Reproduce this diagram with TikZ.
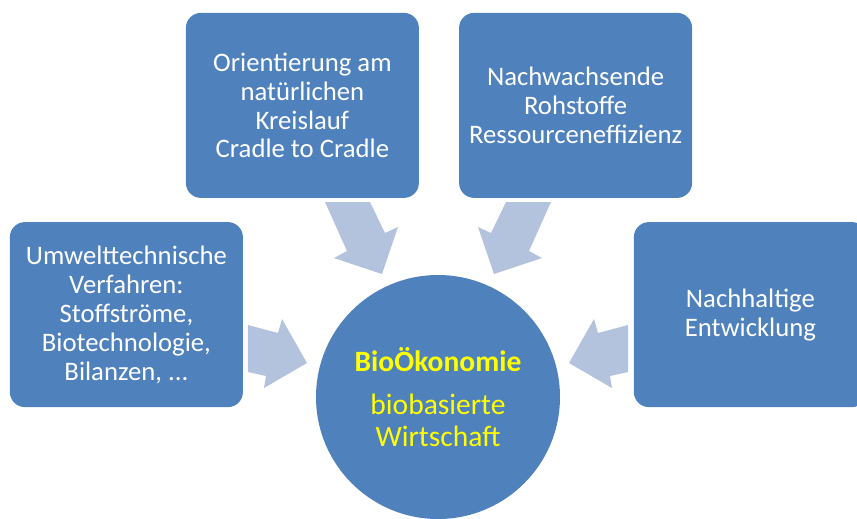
\documentclass[tikz,border=0pt]{standalone}
\usepackage{fontspec}
\setmainfont{Carlito}
\usetikzlibrary{positioning}
\definecolor{boxblue}{HTML}{4F81BD}
\definecolor{arrowblue}{HTML}{B3C3DE}
\definecolor{bioyellow}{HTML}{FFFF00}

\begin{document}
\begin{tikzpicture}[
    font=\fontsize{19}{20.6}\selectfont,
    topic/.style={
      rectangle, rounded corners=0.375cm, fill=boxblue, text=white,
      align=center, minimum width=5.825cm, minimum height=4.625cm,
      inner sep=2pt
    },
    core/.style={
      circle, fill=boxblue, text=bioyellow, align=center,
      minimum size=6.1cm, inner sep=0pt,
      font=\fontsize{21}{22.8}\selectfont
    },
    flow/.style={fill=arrowblue}
  ]
    \useasboundingbox (-10.95,-3.025) rectangle (10.475,9.925);

    % Central circle (origin)
    \node[core] (bio)
      {{\bfseries BioÖkonomie}\\[8pt]biobasierte\\Wirtschaft};

    % Surrounding topics
    \node[topic] at ([shift={(-3.39, 7.29)}]bio.center) (kreis)
      {Orientierung am\\natürlichen\\Kreislauf\\Cradle to Cradle};
    \node[topic] at ([shift={( 3.44, 7.29)}]bio.center) (rohst)
      {Nachwachsende\\Rohstoffe\\Ressourceneffizienz};
    \node[topic] at ([shift={(-7.79, 2.06)}]bio.center) (umwelt)
      {Umwelttechnische\\Verfahren:\\Stoffströme,\\Biotechnologie,\\Bilanzen, ...};
    \node[topic] at ([shift={( 7.81, 2.06)}]bio.center) (nachh)
      {Nachhaltige\\Entwicklung};

    % Block arrows pointing at the circle
    \begin{scope}[shift={(bio.center)}]
      \fill[flow] (-2.825,4.875) -- (-1.70,4.875) -- (-1.325,4.10)
        -- (-1.00,4.25) -- (-1.40,3.075) -- (-2.60,3.475)
        -- (-2.275,3.65) -- cycle;
      \fill[flow] (2.825,4.875) -- (1.70,4.875) -- (1.325,4.10)
        -- (1.00,4.25) -- (1.40,3.075) -- (2.60,3.475)
        -- (2.275,3.65) -- cycle;
      \fill[flow] (-4.75,1.80) -- (-4.00,1.60) -- (-3.90,1.95)
        -- (-3.275,0.85) -- (-4.35,0.225) -- (-4.30,0.525)
        -- (-4.75,0.625) -- cycle;
      \fill[flow] (4.75,1.80) -- (4.00,1.60) -- (3.90,1.95)
        -- (3.275,0.85) -- (4.35,0.225) -- (4.30,0.525)
        -- (4.75,0.625) -- cycle;
    \end{scope}
  \end{tikzpicture}
\end{document}
